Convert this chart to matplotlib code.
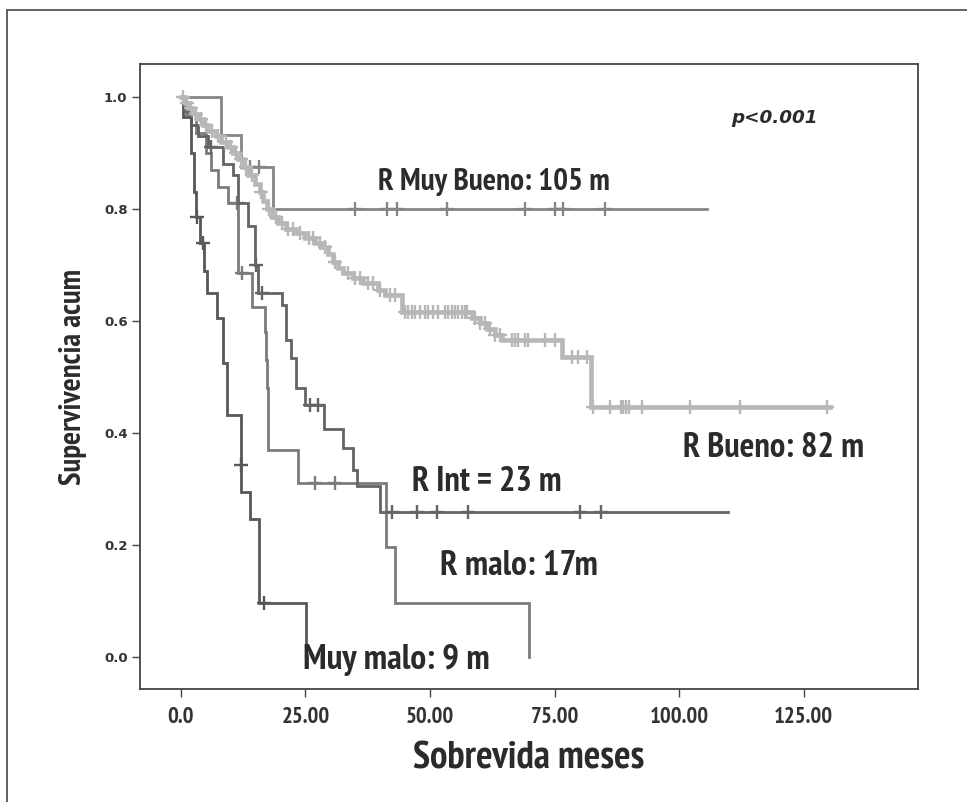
import matplotlib.pyplot as plt
import numpy as np
from matplotlib import font_manager

# --- curve data (time in months, cumulative survival after the step) ---
mb_t = [0, 8.0, 12.0, 18.5]
mb_s = [1.0, 0.933, 0.875, 0.80]
mb_end = 105.5
mb_cens = [13.8, 15.6, 34.9, 41.3, 43.3, 53.4, 69.0, 75.0, 76.6, 85.1]

b_t = [0, 0.8, 1.5, 2.5, 3.5, 4.5, 5.5, 7.0, 8.0, 9.5, 10.5, 11.5, 12.5, 13.5,
       14.8, 15.8, 16.5, 17.2, 18.2, 19.5, 21.0, 23.0, 25.0, 27.0, 28.5, 29.5,
       30.5, 31.5, 32.5, 34.5, 36.5, 39.5, 41.0, 44.3, 58.5, 60.0, 61.5, 63.0,
       64.5, 76.4, 82.2]
b_s = [1.0, 0.99, 0.98, 0.97, 0.96, 0.95, 0.94, 0.93, 0.92, 0.91, 0.90, 0.89,
       0.875, 0.86, 0.845, 0.83, 0.815, 0.80, 0.785, 0.775, 0.765, 0.757, 0.748,
       0.74, 0.732, 0.72, 0.705, 0.695, 0.686, 0.677, 0.668, 0.655, 0.646, 0.616,
       0.606, 0.596, 0.585, 0.575, 0.566, 0.536, 0.446]
b_end = 130.3
b_cens = [0.5, 1.2, 2.0, 3.0, 4.0, 5.0, 6.2, 7.5, 9.0, 10.0, 11.0, 12.0, 13.0,
          14.2, 16.0, 17.6, 19.0, 20.2, 21.5, 22.5, 24.0, 25.8, 26.5, 28.0, 29.0,
          31.0, 33.5, 35.0, 36.0, 37.5, 38.5, 40.0, 42.0, 43.0,
          44.9, 45.5, 46.3, 46.9, 48.0, 49.0, 49.6, 50.6, 51.6, 53.0, 53.6, 54.4,
          55.0, 55.6, 56.4, 57.0, 57.4, 59.0, 60.0, 61.0, 62.0, 63.0, 64.0,
          66.4, 67.0, 67.6, 69.0, 69.6, 73.0, 75.0, 78.4, 79.7, 81.5,
          82.7, 86.1, 88.3, 88.7, 89.3, 89.9, 92.5, 102.1, 112.2, 129.6]

i_t = [0, 1.0, 2.0, 3.5, 5.5, 8.5, 10.5, 11.5, 13.5, 14.8, 15.5, 20.3, 21.0,
       22.0, 23.0, 25.0, 28.7, 32.5, 34.5, 35.3, 40.0]
i_s = [1.0, 0.975, 0.95, 0.93, 0.91, 0.88, 0.86, 0.81, 0.77, 0.70, 0.65, 0.629,
       0.566, 0.534, 0.48, 0.45, 0.407, 0.373, 0.334, 0.305, 0.259]
i_end = 109.8
i_cens = [6.0, 15.0, 16.2, 26.0, 27.6, 42.3, 47.3, 51.4, 57.6, 80.1, 84.2]

m_t = [0, 1.0, 3.0, 5.0, 6.0, 7.5, 9.5, 11.4, 14.2, 16.9, 17.1, 17.2, 17.4,
       17.5, 23.5, 41.2, 43.0, 69.8]
m_s = [1.0, 0.97, 0.935, 0.90, 0.87, 0.84, 0.81, 0.686, 0.625, 0.58, 0.53, 0.48,
       0.43, 0.37, 0.31, 0.196, 0.096, 0.0]
m_end = 69.8
m_cens = [11.2, 12.2, 26.9, 30.9]

mm_t = [0, 0.5, 2.0, 2.6, 3.0, 3.9, 4.6, 5.2, 7.2, 8.4, 9.2, 12.0, 12.1, 13.8,
        15.6, 25.1]
mm_s = [1.0, 0.964, 0.90, 0.83, 0.786, 0.74, 0.69, 0.65, 0.605, 0.525, 0.432,
        0.343, 0.295, 0.246, 0.096, 0.0]
mm_end = 25.1
mm_cens = [3.2, 4.4, 12.0, 16.7]

curves = [
    (mb_t, mb_s, mb_end, mb_cens, '#858585', 2.0),
    (m_t, m_s, m_end, m_cens, '#7b7b7b', 2.0),
    (i_t, i_s, i_end, i_cens, '#646464', 2.0),
    (mm_t, mm_s, mm_end, mm_cens, '#575757', 2.0),
    (b_t, b_s, b_end, b_cens, '#b7b7b9', 3.3),
]

labels = ['R Muy Bueno: 105 m', 'R Bueno: 82 m', 'R Int = 23 m', 'R malo: 17m',
          'Muy malo: 9 m']
label_x = [39.5, 100.7, 46.3, 52.0, 24.5]
label_y = [0.848, 0.373, 0.3125, 0.1625, -0.005]
label_w = [232, 181, 150, 158, 187]  # widths in the reference, px

# a narrow / condensed bold face if one is installed
narrow = [f.fname for f in font_manager.fontManager.ttflist
          if ('Narrow' in f.fname or 'Condensed' in f.fname) and 'Bold' in f.fname
          and 'Italic' not in f.fname and 'Oblique' not in f.fname]
narrow.sort(key=lambda n: 0 if 'Narrow' in n else 1)
if narrow:
    cond = font_manager.FontProperties(fname=narrow[0])
else:
    cond = font_manager.FontProperties(family='DejaVu Sans', weight='bold')

fig = plt.figure(figsize=(9.67, 8.02), dpi=100)
ax = fig.add_axes([0.1448, 0.1409, 0.8045, 0.7793])
rend = fig.canvas.get_renderer()


def fit(t, px, size=20, vertical=False):
    t.set_fontsize(size)
    bb = t.get_window_extent(rend)
    cur = bb.height if vertical else bb.width
    t.set_fontsize(size * px / cur)


for t, s, end, cens, col, lw in curves:
    tt = list(t) + [end]
    ss = list(s) + [s[-1]]
    ax.step(tt, ss, where='post', color=col, lw=lw, solid_joinstyle='miter')
    idx = np.searchsorted(t, cens, side='right') - 1
    cy = np.array(s)[idx]
    ax.plot(cens, cy, '+', color=col, ms=10, mew=1.7, ls='none')

for txt, x, y, w in zip(labels, label_x, label_y, label_w):
    tx = ax.text(x, y, txt, ha='left', va='center', fontproperties=cond,
                 color='#2b2b2b')
    fit(tx, w)

pt = ax.text(110.4, 0.9625, 'p<0.001', ha='left', va='center',
             fontweight='bold', style='italic', color='#2b2b2b')
fit(pt, 87, 12)

ax.set_xlim(-8.2, 147.9)
ax.set_ylim(-0.057, 1.059)
ax.set_xticks([0, 25, 50, 75, 100, 125])
xt = ax.set_xticklabels(['0.0', '25.00', '50.00', '75.00', '100.00', '125.00'],
                        fontproperties=cond, color='#333333')
fit(xt[-1], 60, 12)
for lab in xt:
    lab.set_fontsize(xt[-1].get_fontsize())
ax.set_yticks([0, 0.2, 0.4, 0.6, 0.8, 1.0])
ax.set_yticklabels(['0.0', '0.2', '0.4', '0.6', '0.8', '1.0'],
                   fontweight='bold', fontsize=9.5, color='#333333')
ax.tick_params(axis='x', direction='out', length=6, width=1, color='#444444', pad=7)
ax.tick_params(axis='y', direction='out', length=6, width=1, color='#444444', pad=3)
for sp in ax.spines.values():
    sp.set_color('#444444')
    sp.set_linewidth(1.3)

xl = ax.set_xlabel('Sobrevida meses', fontproperties=cond, color='#2b2b2b',
                   labelpad=10)
fit(xl, 232)
yl = ax.set_ylabel('Supervivencia acum', fontproperties=cond, color='#2b2b2b',
                   labelpad=12)
fit(yl, 215, 17, vertical=True)

# outer frame (left and top edges visible)
fig.add_artist(plt.Line2D([7 / 967, 7 / 967], [0, 1 - 10 / 802],
                          transform=fig.transFigure, color='#555555', lw=1.3))
fig.add_artist(plt.Line2D([7 / 967, 1], [1 - 10 / 802, 1 - 10 / 802],
                          transform=fig.transFigure, color='#555555', lw=1.3))

fig.savefig('out.png', dpi=100)
